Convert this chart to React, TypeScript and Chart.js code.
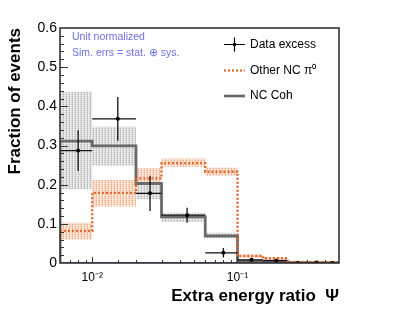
import React, { useEffect, useRef } from "react";
import { Chart, registerables } from "chart.js";

Chart.register(...registerables);

const binEdges = [0.006, 0.01, 0.02, 0.03, 0.06, 0.1, 0.15, 0.22, 0.3, 0.4, 0.5];
const dataExcess = [0.287, 0.368, 0.178, 0.122, 0.026, 0.008, 0.006, 0.0, 0.001, 0.0];
const dataExcessErr = [0.052, 0.056, 0.045, 0.019, 0.012, 0.003, 0.003, 0.001, 0.001, 0.001];
const otherNCpi0 = [0.082, 0.179, 0.216, 0.255, 0.233, 0.018, 0.012, 0.003, 0.003, 0.002];
const otherNCpi0Lo = [0.06, 0.144, 0.199, 0.246, 0.223, 0.014, 0.009, 0.001, 0.001, 0.0];
const otherNCpi0Hi = [0.103, 0.212, 0.242, 0.267, 0.244, 0.022, 0.015, 0.005, 0.005, 0.004];
const ncCoh = [0.311, 0.299, 0.203, 0.118, 0.069, 0.005, 0.005, 0.001, 0.0, 0.0];
const ncCohLo = [0.188, 0.248, 0.163, 0.105, 0.064, 0.003, 0.003, 0.0, 0.0, 0.0];
const ncCohHi = [0.437, 0.348, 0.21, 0.128, 0.077, 0.007, 0.007, 0.002, 0.0, 0.0];

const legendLabels = ["Data excess", "Other NC \u03c0\u2070", "NC Coh"];
const noteLines = ["Unit normalized", "Sim. errs = stat. \u2295 sys."];
const xTitle = "Extra energy ratio  \u03a8";
const yTitle = "Fraction of events";

const FONT = "'Liberation Sans', Arial, Helvetica, sans-serif";

function stepPoints(vals: number[], dropToZero: boolean) {
  const pts: { x: number; y: number }[] = [];
  if (dropToZero) pts.push({ x: binEdges[0], y: 0 });
  vals.forEach((v, i) => pts.push({ x: binEdges[i], y: v }));
  pts.push({ x: binEdges[binEdges.length - 1], y: vals[vals.length - 1] });
  return pts;
}

function makePattern(dark: string, mid: string, light: string) {
  const c = document.createElement("canvas");
  c.width = 3;
  c.height = 2;
  const g = c.getContext("2d")!;
  g.fillStyle = light;
  g.fillRect(0, 0, 3, 2);
  g.fillStyle = dark;
  g.fillRect(0, 0, 1, 1);
  g.fillStyle = mid;
  g.fillRect(0, 1, 1, 1);
  g.fillRect(2, 0, 1, 1);
  return g.createPattern(c, "repeat")!;
}

const isDecade = (v: number) => Math.abs(Math.log10(v) - Math.round(Math.log10(v))) < 1e-6;
const isTenth = (v: number) => Math.abs(v * 10 - Math.round(v * 10)) < 1e-6;

const framePlugin = {
  id: "framePlugin",
  afterDatasetsDraw(chart: any) {
    const { ctx, chartArea: a, scales } = chart;
    ctx.save();
    ctx.strokeStyle = "#333";
    ctx.lineWidth = 1;
    // x ticks (inside, pointing up)
    scales.x.ticks.forEach((t: any) => {
      const px = scales.x.getPixelForValue(t.value);
      if (px <= a.left + 1 || px >= a.right - 1) return;
      const len = isDecade(t.value) ? 6 : 3;
      ctx.beginPath();
      ctx.moveTo(Math.round(px) + 0.5, a.bottom);
      ctx.lineTo(Math.round(px) + 0.5, a.bottom - len);
      ctx.stroke();
    });
    // y ticks (inside, pointing right)
    scales.y.ticks.forEach((t: any) => {
      const py = scales.y.getPixelForValue(t.value);
      if (py <= a.top + 1 || py >= a.bottom - 1) return;
      const len = isTenth(t.value) ? 8 : 4;
      ctx.beginPath();
      ctx.moveTo(a.left, Math.round(py) + 0.5);
      ctx.lineTo(a.left + len, Math.round(py) + 0.5);
      ctx.stroke();
    });
    ctx.lineWidth = 1.6;
    ctx.strokeStyle = "#333";
    ctx.strokeRect(a.left, a.top, a.right - a.left, a.bottom - a.top);

    // notes
    ctx.fillStyle = "#6e6ee6";
    ctx.font = `10.5px ${FONT}`;
    ctx.textBaseline = "middle";
    ctx.textAlign = "left";
    ctx.fillText(noteLines[0], 72, 37);
    ctx.fillText(noteLines[1], 72, 53.5);

    // legend
    const lx0 = 224, lx1 = 245, tx = 250;
    const ys = [44.5, 70.5, 96];
    ctx.font = `12px ${FONT}`;
    ctx.fillStyle = "#000";
    legendLabels.forEach((l, i) => ctx.fillText(l, tx, ys[i]));
    // data excess symbol
    ctx.strokeStyle = "#000";
    ctx.lineWidth = 1.2;
    ctx.beginPath();
    ctx.moveTo(lx0, ys[0]);
    ctx.lineTo(lx1, ys[0]);
    ctx.moveTo((lx0 + lx1) / 2, ys[0] - 7);
    ctx.lineTo((lx0 + lx1) / 2, ys[0] + 7);
    ctx.stroke();
    ctx.beginPath();
    ctx.arc((lx0 + lx1) / 2, ys[0], 1.8, 0, Math.PI * 2);
    ctx.fillStyle = "#000";
    ctx.fill();
    // other NC pi0
    ctx.strokeStyle = "#e0692e";
    ctx.lineWidth = 2.2;
    ctx.setLineDash([2, 2]);
    ctx.beginPath();
    ctx.moveTo(lx0, ys[1]);
    ctx.lineTo(lx1, ys[1]);
    ctx.stroke();
    ctx.setLineDash([]);
    // NC coh
    ctx.strokeStyle = "#666";
    ctx.lineWidth = 2.6;
    ctx.beginPath();
    ctx.moveTo(lx0, ys[2]);
    ctx.lineTo(lx1, ys[2]);
    ctx.stroke();
    ctx.restore();
  },
};

export default function App() {
  const ref = useRef<HTMLCanvasElement | null>(null);

  useEffect(() => {
    document.body.style.margin = "0";
    const canvas = ref.current!;
    const grayPat = makePattern("#b8b8b8", "#d0d0d0", "#ececec");
    const orangePat = makePattern("#f2ad88", "#f7c9af", "#fde9dd");

    const centers = dataExcess.map((_, i) => (binEdges[i] + binEdges[i + 1]) / 2);
    const errPts: any[] = [];
    dataExcess.forEach((v, i) => {
      errPts.push({ x: centers[i], y: Math.max(0, v - dataExcessErr[i]) });
      errPts.push({ x: centers[i], y: v + dataExcessErr[i] });
      errPts.push({ x: centers[i], y: null });
      errPts.push({ x: binEdges[i], y: v });
      errPts.push({ x: binEdges[i + 1], y: v });
      errPts.push({ x: centers[i], y: null });
    });

    const chart = new Chart(canvas, {
      type: "line",
      data: {
        datasets: [
          {
            label: "Data excess markers",
            data: dataExcess.map((v, i) => ({ x: centers[i], y: v })),
            showLine: false,
            pointRadius: 2,
            pointBackgroundColor: "#000",
            pointBorderWidth: 0,
            order: 0,
          } as any,
          {
            label: "Data excess errors",
            data: errPts,
            borderColor: "#111",
            borderWidth: 1.3,
            pointRadius: 0,
            spanGaps: false,
            order: 1,
          },
          {
            label: "Other NC pi0",
            data: stepPoints(otherNCpi0, true),
            stepped: true,
            borderColor: "#e0692e",
            borderWidth: 2.4,
            borderDash: [2, 2],
            pointRadius: 0,
            order: 2,
          },
          {
            label: "NC Coh",
            data: stepPoints(ncCoh, true),
            stepped: true,
            borderColor: "#6a6a6a",
            borderWidth: 2.8,
            pointRadius: 0,
            order: 3,
          },
          {
            label: "zero",
            data: [
              { x: binEdges[0], y: 0 },
              { x: binEdges[binEdges.length - 1], y: 0 },
            ],
            borderColor: "#2a2aa5",
            borderWidth: 1.5,
            pointRadius: 0,
            order: 4,
          },
          {
            label: "NC Coh hi",
            data: stepPoints(ncCohHi, false),
            stepped: true,
            borderWidth: 0,
            borderColor: "rgba(0,0,0,0)",
            pointRadius: 0,
            fill: false,
            order: 6,
          },
          {
            label: "NC Coh lo",
            data: stepPoints(ncCohLo, false),
            stepped: true,
            borderWidth: 0,
            borderColor: "rgba(0,0,0,0)",
            pointRadius: 0,
            backgroundColor: grayPat as any,
            fill: 5,
            order: 6,
          },
          {
            label: "Other hi",
            data: stepPoints(otherNCpi0Hi, false),
            stepped: true,
            borderWidth: 0,
            borderColor: "rgba(0,0,0,0)",
            pointRadius: 0,
            fill: false,
            order: 5,
          },
          {
            label: "Other lo",
            data: stepPoints(otherNCpi0Lo, false),
            stepped: true,
            borderWidth: 0,
            borderColor: "rgba(0,0,0,0)",
            pointRadius: 0,
            backgroundColor: orangePat as any,
            fill: 7,
            order: 5,
          },
        ],
      },
      options: {
        animation: false,
        responsive: false,
        layout: { padding: { top: 28, right: 60, left: 0, bottom: 0 } },
        plugins: { legend: { display: false }, tooltip: { enabled: false } },
        scales: {
          x: {
            type: "logarithmic",
            min: binEdges[0],
            max: binEdges[binEdges.length - 1],
            grid: { display: false, drawTicks: false },
            border: { display: false },
            afterFit: (s: any) => {
              s.height = 47;
            },
            ticks: {
              autoSkip: false,
              maxRotation: 0,
              padding: 7,
              color: "#000",
              font: { family: FONT, size: 12 },
              callback: (v: any) => {
                const n = Number(v);
                if (Math.abs(n - 0.01) < 1e-9) return "10\u207b\u00b2";
                if (Math.abs(n - 0.1) < 1e-9) return "10\u207b\u00b9";
                return "";
              },
            },
            title: {
              display: true,
              text: xTitle,
              align: "end",
              color: "#000",
              font: { family: FONT, size: 17, weight: "bold" },
              padding: { top: 0, bottom: 3 },
            },
          },
          y: {
            min: 0,
            max: 0.6,
            grid: { display: false, drawTicks: false },
            border: { display: false },
            afterFit: (s: any) => {
              s.width = 60;
            },
            ticks: {
              stepSize: 0.02,
              autoSkip: false,
              padding: 3,
              color: "#000",
              font: { family: FONT, size: 14 },
              callback: (v: any) => {
                const n = Number(v);
                if (!isTenth(n)) return "";
                const r = Math.round(n * 10) / 10;
                return r === 0 ? "0" : r.toFixed(1);
              },
            },
            title: {
              display: true,
              text: yTitle,
              align: "end",
              color: "#000",
              font: { family: FONT, size: 17, weight: "bold" },
              padding: { top: 5, bottom: 0 },
            },
          },
        },
      },
      plugins: [framePlugin],
    });
    return () => chart.destroy();
  }, []);

  return (
    <div style={{ width: 399, height: 310 }}>
      <canvas ref={ref} width={399} height={310} style={{ display: "block" }} />
    </div>
  );
}
